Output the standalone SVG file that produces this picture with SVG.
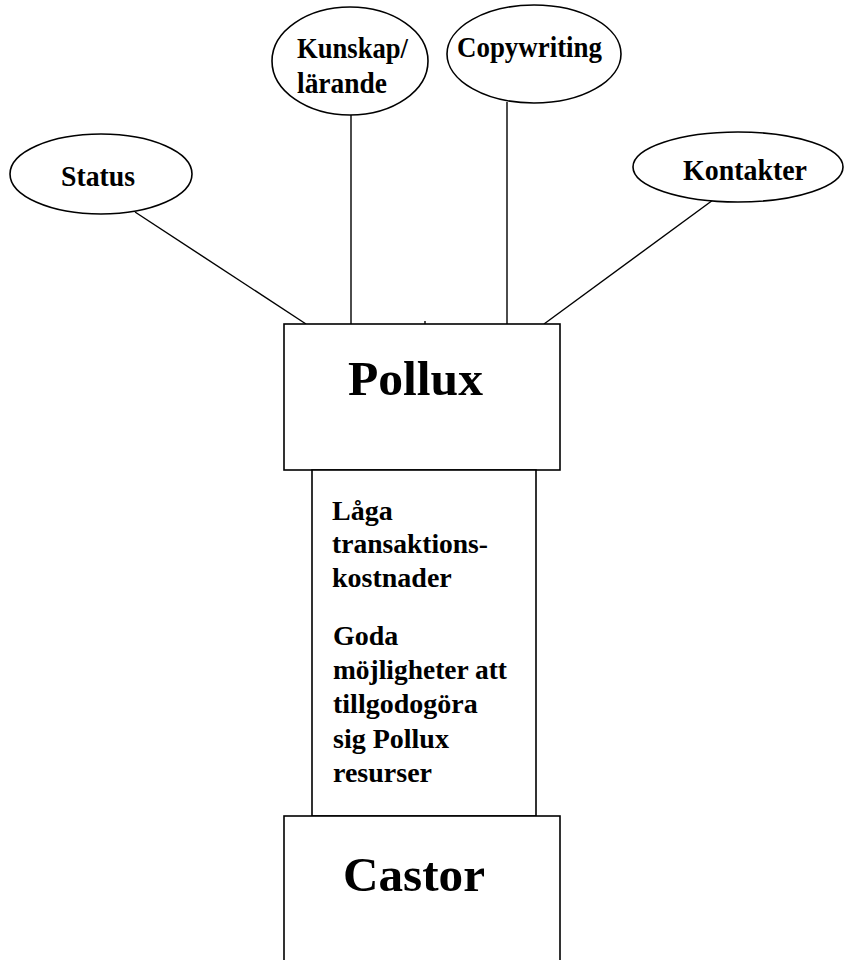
<svg xmlns="http://www.w3.org/2000/svg" width="845" height="960" viewBox="0 0 845 960">
<style>
.shape{fill:#fff;stroke:#000;stroke-width:1.6}
.conn{stroke:#000;stroke-width:1.4;fill:none}
.lbl{font-family:"Liberation Serif","Times New Roman",serif;font-weight:bold;font-size:29px;fill:#000}
.mid{font-family:"Liberation Serif","Times New Roman",serif;font-weight:bold;font-size:28px;fill:#000}
.big{font-family:"Liberation Serif","Times New Roman",serif;font-weight:bold;font-size:49px;fill:#000}
</style>
<rect width="845" height="960" fill="#fff"/>
<g id="connectors">
<line class="conn" x1="135" y1="212" x2="306" y2="324"/>
<line class="conn" x1="351" y1="115" x2="351" y2="324"/>
<line class="conn" x1="507" y1="102" x2="507" y2="324"/>
<line class="conn" x1="713" y1="200" x2="544" y2="324"/>
<line class="conn" x1="425" y1="321" x2="425" y2="324"/>
</g>
<g id="status">
<ellipse class="shape" cx="101" cy="174" rx="91" ry="40"/>
<text class="lbl" x="61" y="186" textLength="74" lengthAdjust="spacingAndGlyphs">Status</text>
</g>
<g id="kunskap">
<ellipse class="shape" cx="350" cy="61" rx="78" ry="54"/>
<text class="lbl" x="297" y="58" textLength="111" lengthAdjust="spacingAndGlyphs">Kunskap/</text>
<text class="lbl" x="297" y="93" textLength="90" lengthAdjust="spacingAndGlyphs">lärande</text>
</g>
<g id="copywriting">
<ellipse class="shape" cx="534" cy="54" rx="87" ry="49"/>
<text class="lbl" x="457" y="57" textLength="145" lengthAdjust="spacingAndGlyphs">Copywriting</text>
</g>
<g id="kontakter">
<ellipse class="shape" cx="738" cy="167" rx="105" ry="35"/>
<text class="lbl" x="683" y="180" textLength="124" lengthAdjust="spacingAndGlyphs">Kontakter</text>
</g>
<g id="pollux">
<rect class="shape" x="284" y="324" width="276" height="146"/>
<text class="big" x="348" y="395" textLength="135" lengthAdjust="spacingAndGlyphs">Pollux</text>
</g>
<g id="link">
<rect class="shape" x="312" y="470" width="224" height="346"/>
<text class="mid" x="332" y="520">Låga</text>
<text class="mid" x="332" y="553" textLength="156" lengthAdjust="spacingAndGlyphs">transaktions-</text>
<text class="mid" x="332" y="587">kostnader</text>
<text class="mid" x="333" y="645">Goda</text>
<text class="mid" x="333" y="679" textLength="174" lengthAdjust="spacingAndGlyphs">möjligheter att</text>
<text class="mid" x="333" y="713">tillgodogöra</text>
<text class="mid" x="333" y="748">sig Pollux</text>
<text class="mid" x="333" y="782">resurser</text>
</g>
<g id="castor">
<rect class="shape" x="284" y="816" width="276" height="150"/>
<text class="big" x="343" y="891" textLength="142" lengthAdjust="spacingAndGlyphs">Castor</text>
</g>
</svg>
